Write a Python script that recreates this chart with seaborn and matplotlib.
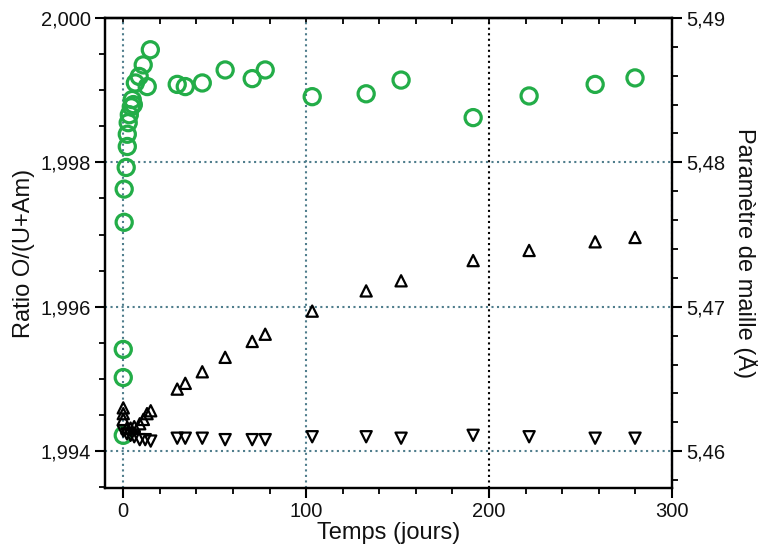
import matplotlib
matplotlib.use('Agg')
import matplotlib.pyplot as plt
import seaborn as sns
from matplotlib.ticker import MultipleLocator, FuncFormatter

# Data
# O/(U+Am) ratio (left axis, green circles)
t_ratio = [0, 0, 0, 0.5, 0.5, 1.6, 2.2, 2.2, 2.7, 3.3, 4.4, 4.9, 5.5, 6.6, 8.7,
           10.9, 13.1, 14.8, 29.5, 33.9, 43.2, 55.7, 70.5, 77.6,
           103.3, 132.8, 151.9, 191.3, 221.9, 258, 279.8]
ratio = [1.99422, 1.99502, 1.99541, 1.99717, 1.99763, 1.99793, 1.99822, 1.99839,
         1.99855, 1.99866, 1.99877, 1.99887, 1.99880, 1.99910, 1.99919,
         1.99935, 1.99905, 1.99956, 1.99908, 1.99905, 1.99910, 1.99928, 1.99916, 1.99928,
         1.99891, 1.99895, 1.99914, 1.99862, 1.99892, 1.99908, 1.99917]

# lattice parameter (right axis), phase 1 (up triangles)
t_up = [0, 0, 0, 2, 4, 6, 9, 11, 13, 15, 29.5, 33.9, 43.2, 55.7, 70.5, 77.6,
        103.3, 132.8, 151.9, 191.3, 221.9, 258, 279.8]
param_up = [5.4630, 5.4626, 5.4622, 5.4616, 5.4616, 5.4617, 5.4619, 5.4622, 5.4626, 5.4628,
            5.4643, 5.4647, 5.4655, 5.4665, 5.4676, 5.4681,
            5.4697, 5.4711, 5.4718, 5.4732, 5.4739, 5.4745, 5.4748]

# lattice parameter (right axis), phase 2 (down triangles)
t_down = [0, 2, 4, 6, 9, 12, 15, 29.5, 33.9, 43.2, 55.7, 70.5, 77.6,
          103.3, 132.8, 151.9, 191.3, 221.9, 258, 279.8]
param_down = [5.4614, 5.4612, 5.4611, 5.4610, 5.4608, 5.4608, 5.4607,
              5.4609, 5.4609, 5.4609, 5.4608, 5.4608, 5.4608,
              5.4610, 5.4610, 5.4609, 5.4611, 5.4610, 5.4609, 5.4609]

green = '#23ad48'
gridc = '#4f7d8c'

sns.set_style('ticks')
plt.rcParams['font.family'] = ['Liberation Sans', 'DejaVu Sans']
plt.rcParams['axes.linewidth'] = 1.6
plt.rcParams['axes.edgecolor'] = 'black'
plt.rcParams['text.color'] = '#111111'
plt.rcParams['axes.labelcolor'] = '#111111'
plt.rcParams['xtick.color'] = 'black'
plt.rcParams['ytick.color'] = 'black'
plt.rcParams['xtick.labelcolor'] = '#111111'
plt.rcParams['ytick.labelcolor'] = '#111111'

fig = plt.figure(figsize=(7.58, 5.53), dpi=100)
ax = fig.add_axes([0.1385, 0.1175, 0.748, 0.85])

sns.scatterplot(x=t_ratio, y=ratio, ax=ax, marker='o', s=135,
                facecolor='none', edgecolor=green, linewidth=2.3, zorder=3)

ax.set_xlim(-10, 300)
ax.set_ylim(1.99349, 2.000)
ax.xaxis.set_major_locator(MultipleLocator(100))
ax.xaxis.set_minor_locator(MultipleLocator(20))
ax.yaxis.set_major_locator(MultipleLocator(0.002))
ax.yaxis.set_minor_locator(MultipleLocator(0.0005))
ax.yaxis.set_major_formatter(FuncFormatter(lambda v, p: f'{v:.3f}'.replace('.', ',')))
ax.tick_params(which='major', length=7, width=1.5, labelsize=14.5, direction='out', pad=3)
ax.tick_params(which='minor', length=4, width=1.3, direction='out')
ax.grid(True, which='major', linestyle=':', color=gridc, linewidth=1.5)
for loc, tick in zip(ax.xaxis.get_majorticklocs(), ax.xaxis.get_major_ticks()):
    if abs(loc - 200) < 1e-6:
        tick.gridline.set_color('black')
ax.set_xlabel('Temps (jours)', fontsize=17, labelpad=1)
ax.set_ylabel('Ratio O/(U+Am)', fontsize=17, labelpad=4)

# top ticks pointing inward
top = ax.secondary_xaxis('top')
top.xaxis.set_major_locator(MultipleLocator(20))
top.tick_params(direction='in', length=4, width=1.3, labeltop=False)

ax2 = ax.twinx()
sns.scatterplot(x=t_up, y=param_up, ax=ax2, marker='^', s=65,
                facecolor='none', edgecolor='black', linewidth=1.6, zorder=4)
sns.scatterplot(x=t_down, y=param_down, ax=ax2, marker='v', s=65,
                facecolor='none', edgecolor='black', linewidth=1.6, zorder=4)
ax2.set_ylim(5.46 + (1.99349 - 1.994) * 5, 5.49)
ax2.yaxis.set_major_locator(MultipleLocator(0.01))
ax2.yaxis.set_minor_locator(MultipleLocator(0.002))
ax2.yaxis.set_major_formatter(FuncFormatter(lambda v, p: f'{v:.2f}'.replace('.', ',')))
ax2.tick_params(which='major', length=7, width=1.5, labelsize=14.5, direction='out', pad=3)
ax2.tick_params(which='minor', length=4, width=1.3, direction='out')
ax2.grid(False)
ax2.set_ylabel('Paramètre de maille (Å)', fontsize=17, rotation=270, va='bottom', labelpad=6)

fig.savefig('out.png', dpi=100)
